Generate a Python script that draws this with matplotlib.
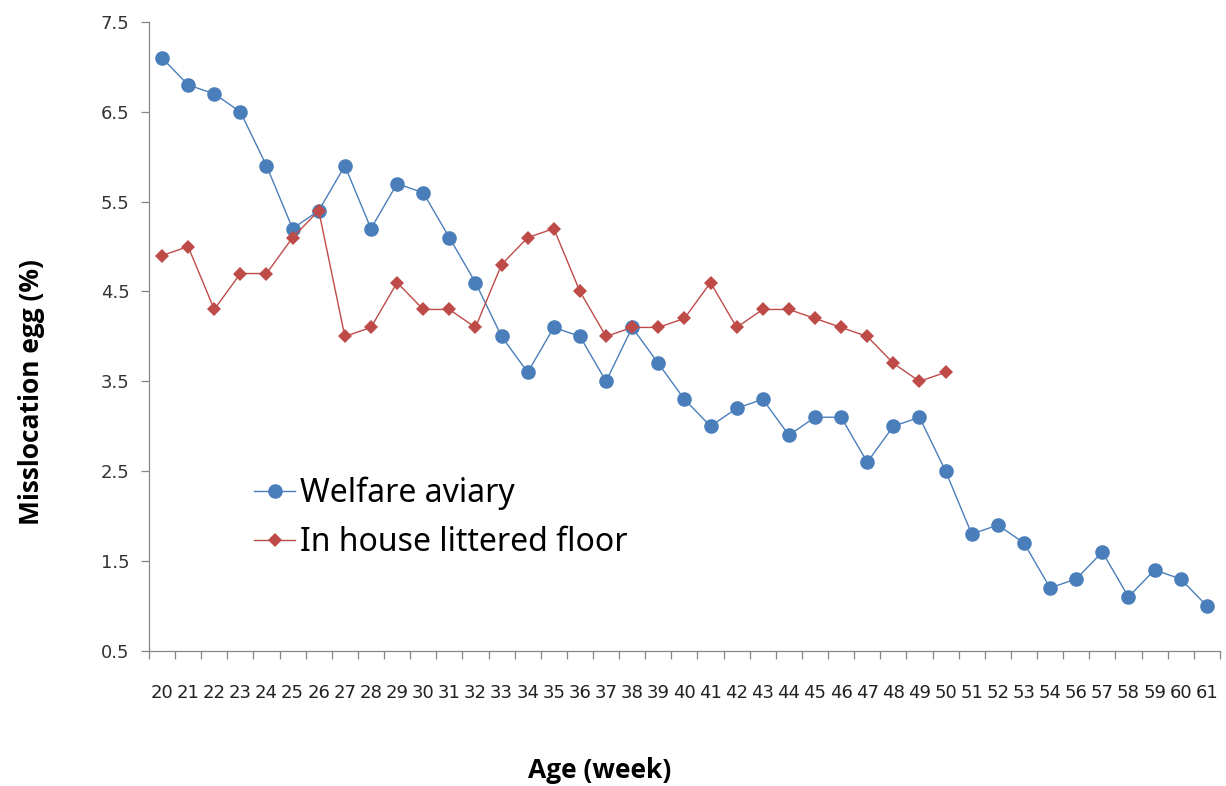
import numpy as np
import matplotlib.pyplot as plt
from matplotlib.ticker import FixedLocator

# Mislocated eggs by hen age, two housing systems
weeks = ['20', '21', '22', '23', '24', '25', '26', '27', '28', '29', '30',
         '31', '32', '33', '34', '35', '36', '37', '38', '39', '40', '41',
         '42', '43', '44', '45', '46', '47', '48', '49', '50', '51', '52',
         '53', '54', '56', '57', '58', '59', '60', '61']

welfare_aviary = [7.1, 6.8, 6.7, 6.5, 5.9, 5.2, 5.4, 5.9, 5.2, 5.7, 5.6,
                  5.1, 4.6, 4.0, 3.6, 4.1, 4.0, 3.5, 4.1, 3.7, 3.3, 3.0,
                  3.2, 3.3, 2.9, 3.1, 3.1, 2.6, 3.0, 3.1, 2.5, 1.8, 1.9,
                  1.7, 1.2, 1.3, 1.6, 1.1, 1.4, 1.3, 1.0]

littered_floor = [4.9, 5.0, 4.3, 4.7, 4.7, 5.1, 5.4, 4.0, 4.1, 4.6, 4.3,
                  4.3, 4.1, 4.8, 5.1, 5.2, 4.5, 4.0, 4.1, 4.1, 4.2, 4.6,
                  4.1, 4.3, 4.3, 4.2, 4.1, 4.0, 3.7, 3.5, 3.6]

blue = '#4A7EBB'
red = '#BE4B48'
axis_grey = '#868686'

fig = plt.figure(figsize=(12.26, 7.86), dpi=100)
ax = fig.add_axes([0.1215, 0.172, 0.8735, 0.800])

x = np.arange(len(weeks))
ax.plot(x, welfare_aviary, color=blue, linewidth=1.0, marker='o',
        markersize=10.5, markeredgewidth=0, label='Welfare aviary', zorder=3)
ax.plot(x[:len(littered_floor)], littered_floor, color=red, linewidth=1.0,
        marker='D', markersize=7.5, markeredgewidth=0,
        label='In house littered floor', zorder=4)

ax.set_xlim(-0.5, len(weeks) - 0.5)
ax.set_ylim(0.5, 7.5)
ax.set_yticks(np.arange(0.5, 7.6, 1.0))
ax.set_yticklabels([f'{v:.1f}' for v in np.arange(0.5, 7.6, 1.0)])

# category labels centred, tick marks on the category boundaries
ax.set_xticks(x)
ax.set_xticklabels(weeks)
ax.xaxis.set_minor_locator(FixedLocator(np.arange(-0.5, len(weeks), 1.0)))
ax.tick_params(axis='x', which='major', length=0, pad=24,
               labelsize=13, labelcolor='#222222')
ax.tick_params(axis='x', which='minor', length=6, width=0.9,
               color=axis_grey, direction='out')
ax.tick_params(axis='y', length=6, width=0.9, color=axis_grey,
               labelsize=13, labelcolor='#333333', pad=8)

for side in ('top', 'right'):
    ax.spines[side].set_visible(False)
for side in ('left', 'bottom'):
    ax.spines[side].set_color(axis_grey)
    ax.spines[side].set_linewidth(0.9)

fig.text(600 / 1226, 1 - 770 / 786, 'Age (week)', fontsize=19,
         fontweight='bold', family='Open Sans', ha='center', va='center')
fig.text(32 / 1226, 1 - 392 / 786, 'Misslocation egg (%)', fontsize=19,
         fontweight='bold', family='Open Sans', ha='center', va='center',
         rotation=90)

ax.legend(loc='upper left', bbox_to_anchor=(0.083, 0.302), frameon=False,
          prop={'family': 'Noto Sans', 'size': 23}, handlelength=1.3,
          handletextpad=0.15, labelspacing=0.5, borderpad=0)

fig.savefig('out.png', dpi=100)
